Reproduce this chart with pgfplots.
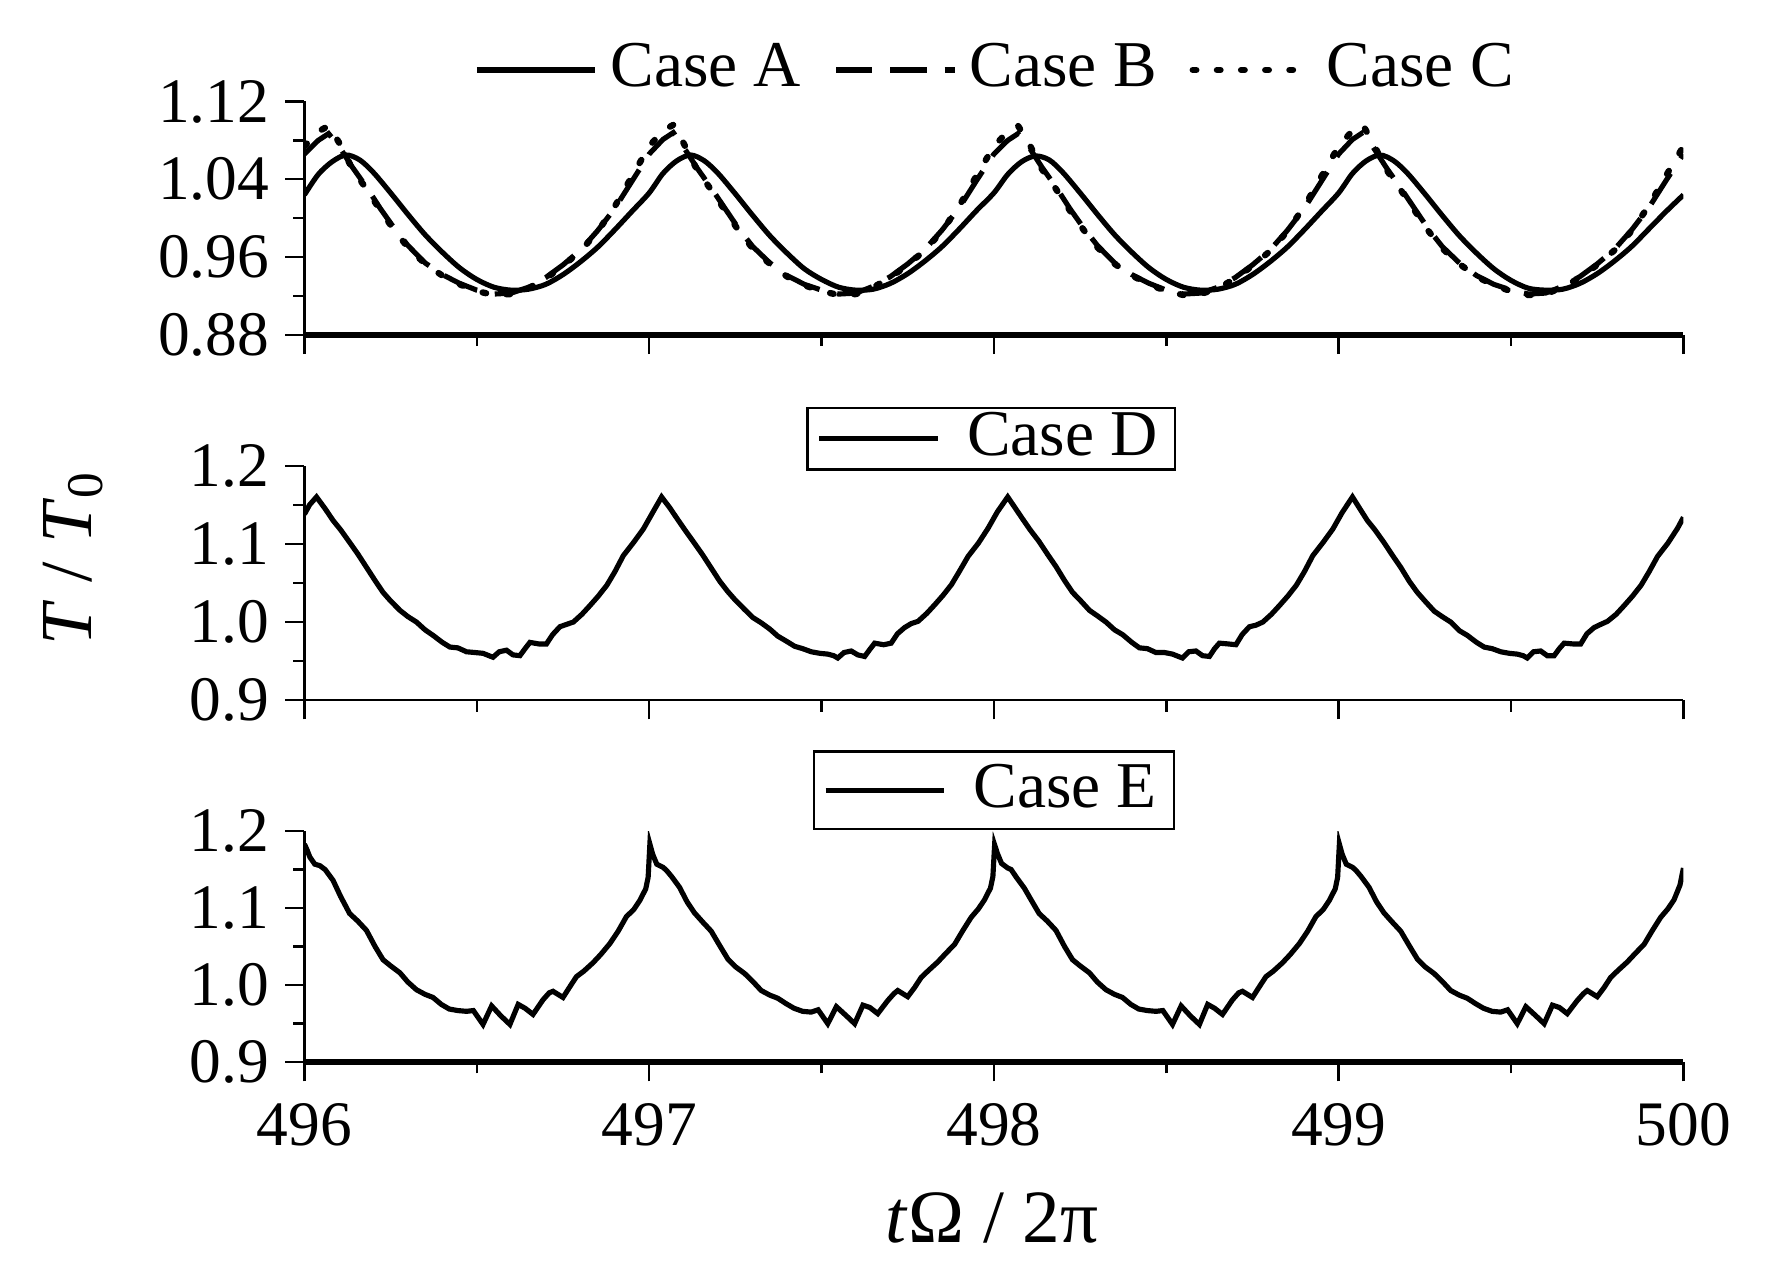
\documentclass[border=0pt]{standalone}
\usepackage{fontspec}
\setmainfont{Liberation Serif}
\usepackage{pgfplots}
\pgfplotsset{compat=1.18}

\pgfplotsset{
  panel/.style={
    scale only axis, width=122.3mm,
    xmin=496, xmax=500,
    axis x line*=bottom, axis y line*=left,
    axis line style={-, line width=0.6pt},
    tick align=outside,
    major tick length=1.7mm, minor tick length=1.0mm,
    xtick={496,497,498,499,500},
    minor xtick={496.5,497.5,498.5,499.5},
    tick style={black, line width=0.6pt},
    minor tick style={black, line width=0.6pt},
    /pgf/number format/assume math mode=true,
    tick label style={font=\fontsize{16}{19}\selectfont},
    yticklabel style={xshift=0.5mm},
    legend image code/.code={\draw[#1] (0mm,0mm) -- (10.5mm,0mm); \path (10.9mm,0mm);},
    legend cell align=left,
    clip=true,
  },
  boxlegend/.style={
    legend image code/.code={\draw[#1] (0mm,0mm) -- (10.5mm,0mm); \path (12.2mm,0mm);},
  },
  curve/.style={black, line width=1.3pt, mark=none},
}

\begin{document}
\fontsize{16}{19}\selectfont
\begin{tikzpicture}
\useasboundingbox (-27mm,0mm) rectangle (129.8mm,-114.2mm);

% ---------- top panel ----------
\begin{axis}[panel, at={(0mm,-29.7mm)}, anchor=south west, height=20.7mm,
  ymin=0.88, ymax=1.12,
  ytick={0.88,0.96,1.04,1.12}, yticklabels={0.88,0.96,1.04,1.12},
  minor ytick={0.92,1.00,1.08},
  xticklabels={},
  x axis line style={line width=1.4pt},
  legend columns=3,
  legend style={draw=none, fill=none, at={(0.503,1.135)}, anchor=center,
    font=\fontsize{16.5}{19}\selectfont,
    /tikz/every even column/.append style={column sep=2.2mm}},
]
\addplot[curve, smooth] coordinates {
(496.00,1.024)(496.04,1.045)(496.08,1.058)(496.12,1.065)(496.16,1.060)(496.20,1.047)(496.25,1.026)(496.30,1.004)(496.35,0.983)(496.40,0.965)(496.45,0.949)(496.50,0.937)(496.55,0.929)(496.60,0.926)(496.65,0.927)(496.70,0.932)(496.75,0.942)(496.80,0.955)(496.85,0.970)(496.90,0.988)(496.95,1.007)
(497.00,1.026)(497.04,1.046)(497.08,1.059)(497.12,1.065)(497.16,1.059)(497.20,1.046)(497.25,1.025)(497.30,1.003)(497.35,0.982)(497.40,0.964)(497.45,0.948)(497.50,0.937)(497.55,0.929)(497.60,0.926)(497.65,0.927)(497.70,0.933)(497.75,0.943)(497.80,0.956)(497.85,0.971)(497.90,0.989)(497.95,1.008)
(498.00,1.026)(498.04,1.045)(498.08,1.058)(498.12,1.064)(498.16,1.060)(498.20,1.047)(498.25,1.026)(498.30,1.004)(498.35,0.983)(498.40,0.965)(498.45,0.949)(498.50,0.937)(498.55,0.929)(498.60,0.926)(498.65,0.927)(498.70,0.932)(498.75,0.942)(498.80,0.955)(498.85,0.970)(498.90,0.988)(498.95,1.007)
(499.00,1.026)(499.04,1.046)(499.08,1.059)(499.12,1.065)(499.16,1.059)(499.20,1.046)(499.25,1.025)(499.30,1.003)(499.35,0.982)(499.40,0.964)(499.45,0.948)(499.50,0.936)(499.55,0.928)(499.60,0.926)(499.65,0.927)(499.70,0.933)(499.75,0.943)(499.80,0.956)(499.85,0.971)(499.90,0.989)(499.95,1.007)(500.00,1.024)
};
\addlegendentry{Case A}
\addplot[curve, dash pattern=on 3.2mm off 1.6mm] coordinates {
(496.00,1.066)(496.04,1.080)(496.07,1.087)(496.10,1.074)(496.14,1.052)(496.18,1.032)(496.22,1.010)(496.26,0.990)(496.30,0.972)(496.35,0.954)(496.40,0.942)(496.45,0.933)(496.50,0.926)(496.55,0.922)(496.60,0.923)(496.65,0.929)(496.70,0.939)(496.75,0.952)(496.80,0.967)(496.85,0.987)(496.90,1.010)(496.95,1.038)
(497.00,1.066)(497.04,1.081)(497.07,1.088)(497.10,1.073)(497.14,1.051)(497.18,1.031)(497.22,1.010)(497.26,0.989)(497.30,0.971)(497.35,0.954)(497.40,0.941)(497.45,0.932)(497.50,0.926)(497.55,0.922)(497.60,0.923)(497.65,0.930)(497.70,0.940)(497.75,0.953)(497.80,0.968)(497.85,0.988)(497.90,1.011)(497.95,1.039)
(498.00,1.066)(498.04,1.080)(498.07,1.087)(498.10,1.074)(498.14,1.052)(498.18,1.032)(498.22,1.010)(498.26,0.990)(498.30,0.972)(498.35,0.954)(498.40,0.942)(498.45,0.933)(498.50,0.926)(498.55,0.922)(498.60,0.923)(498.65,0.929)(498.70,0.939)(498.75,0.952)(498.80,0.967)(498.85,0.987)(498.90,1.010)(498.95,1.038)
(499.00,1.066)(499.04,1.081)(499.07,1.088)(499.10,1.073)(499.14,1.051)(499.18,1.031)(499.22,1.010)(499.26,0.989)(499.30,0.971)(499.35,0.954)(499.40,0.941)(499.45,0.932)(499.50,0.926)(499.55,0.922)(499.60,0.923)(499.65,0.930)(499.70,0.940)(499.75,0.953)(499.80,0.968)(499.85,0.988)(499.90,1.011)(499.95,1.039)(500.00,1.066)
};
\addlegendentry{Case B}
\addplot[curve, dash pattern=on 0.9pt off 5.2pt, line cap=round, line width=1.6pt] coordinates {
(496.00,1.074)(496.04,1.089)(496.07,1.095)(496.10,1.078)(496.14,1.050)(496.18,1.030)(496.22,1.008)(496.26,0.988)(496.30,0.970)(496.35,0.953)(496.40,0.941)(496.45,0.932)(496.50,0.925)(496.55,0.921)(496.60,0.922)(496.65,0.928)(496.70,0.938)(496.75,0.951)(496.80,0.966)(496.85,0.986)(496.90,1.012)(496.95,1.043)
(497.00,1.074)(497.04,1.090)(497.07,1.096)(497.10,1.077)(497.14,1.049)(497.18,1.029)(497.22,1.008)(497.26,0.987)(497.30,0.969)(497.35,0.953)(497.40,0.940)(497.45,0.931)(497.50,0.925)(497.55,0.921)(497.60,0.922)(497.65,0.929)(497.70,0.939)(497.75,0.952)(497.80,0.967)(497.85,0.987)(497.90,1.013)(497.95,1.044)
(498.00,1.074)(498.04,1.089)(498.07,1.095)(498.10,1.078)(498.14,1.050)(498.18,1.030)(498.22,1.008)(498.26,0.988)(498.30,0.970)(498.35,0.953)(498.40,0.941)(498.45,0.932)(498.50,0.925)(498.55,0.921)(498.60,0.922)(498.65,0.928)(498.70,0.938)(498.75,0.951)(498.80,0.966)(498.85,0.986)(498.90,1.012)(498.95,1.043)
(499.00,1.074)(499.04,1.090)(499.07,1.096)(499.10,1.077)(499.14,1.049)(499.18,1.029)(499.22,1.008)(499.26,0.987)(499.30,0.969)(499.35,0.953)(499.40,0.940)(499.45,0.931)(499.50,0.925)(499.55,0.921)(499.60,0.922)(499.65,0.929)(499.70,0.939)(499.75,0.952)(499.80,0.967)(499.85,0.987)(499.90,1.013)(499.95,1.044)(500.00,1.074)
};
\addlegendentry{Case C}
\end{axis}

% ---------- middle panel ----------
\begin{axis}[panel, boxlegend, at={(0mm,-62.1mm)}, anchor=south west, height=20.8mm,
  ymin=0.9, ymax=1.2,
  ytick={0.9,1.0,1.1,1.2}, yticklabels={0.9,1.0,1.1,1.2},
  minor ytick={0.95,1.05,1.15},
  xticklabels={},
  legend style={draw=black, line width=0.6pt, fill=white, at={(0.498,1.115)}, anchor=center,
    font=\fontsize{16.5}{19}\selectfont, inner xsep=0.8mm, inner ysep=0mm,
    nodes={inner ysep=0.4mm},
    /tikz/every even column/.append style={column sep=2.5mm}},
]
\addplot[curve] coordinates {
(496.000,1.138)(496.015,1.150)(496.035,1.160)(496.060,1.145)(496.083,1.130)(496.105,1.118)(496.131,1.102)(496.155,1.087)(496.180,1.070)(496.205,1.053)(496.228,1.038)(496.250,1.027)(496.277,1.015)(496.300,1.007)(496.325,1.000)(496.350,0.990)(496.373,0.983)(496.400,0.974)(496.422,0.968)(496.445,0.967)(496.470,0.962)(496.495,0.961)(496.518,0.960)(496.535,0.957)(496.547,0.955)(496.565,0.962)(496.586,0.964)(496.605,0.958)(496.625,0.957)(496.640,0.966)(496.654,0.974)(496.680,0.972)(496.702,0.972)(496.720,0.984)(496.741,0.994)(496.760,0.997)(496.780,1.000)(496.805,1.010)(496.828,1.021)(496.852,1.033)(496.877,1.047)(496.900,1.064)(496.925,1.085)(496.955,1.102)(496.983,1.119)
(497.010,1.140)(497.036,1.160)(497.060,1.146)(497.083,1.131)(497.105,1.117)(497.131,1.101)(497.155,1.086)(497.180,1.069)(497.205,1.052)(497.228,1.039)(497.250,1.028)(497.277,1.016)(497.300,1.006)(497.325,0.999)(497.350,0.991)(497.373,0.982)(497.400,0.975)(497.422,0.969)(497.445,0.966)(497.470,0.962)(497.495,0.960)(497.518,0.959)(497.535,0.957)(497.547,0.954)(497.565,0.961)(497.586,0.963)(497.605,0.958)(497.625,0.956)(497.640,0.965)(497.654,0.973)(497.680,0.971)(497.702,0.973)(497.720,0.985)(497.741,0.993)(497.760,0.998)(497.780,1.001)(497.805,1.011)(497.828,1.022)(497.852,1.034)(497.877,1.048)(497.900,1.065)(497.925,1.084)(497.955,1.101)(497.983,1.120)
(498.010,1.141)(498.040,1.160)(498.060,1.147)(498.083,1.132)(498.105,1.118)(498.131,1.103)(498.155,1.087)(498.180,1.071)(498.205,1.053)(498.228,1.038)(498.250,1.028)(498.277,1.015)(498.300,1.008)(498.325,1.000)(498.350,0.990)(498.373,0.984)(498.400,0.974)(498.422,0.967)(498.445,0.966)(498.470,0.961)(498.495,0.961)(498.518,0.959)(498.535,0.956)(498.547,0.954)(498.565,0.962)(498.586,0.963)(498.605,0.957)(498.625,0.956)(498.640,0.966)(498.654,0.973)(498.680,0.972)(498.702,0.971)(498.720,0.984)(498.741,0.994)(498.760,0.996)(498.780,1.000)(498.805,1.010)(498.828,1.021)(498.852,1.033)(498.877,1.047)(498.900,1.064)(498.925,1.085)(498.955,1.102)(498.983,1.119)
(499.010,1.140)(499.040,1.160)(499.060,1.146)(499.083,1.130)(499.105,1.118)(499.131,1.102)(499.155,1.086)(499.180,1.070)(499.205,1.052)(499.228,1.038)(499.250,1.027)(499.277,1.014)(499.300,1.007)(499.325,1.000)(499.350,0.989)(499.373,0.983)(499.400,0.974)(499.422,0.968)(499.445,0.966)(499.470,0.962)(499.495,0.960)(499.518,0.959)(499.535,0.957)(499.547,0.954)(499.565,0.962)(499.586,0.963)(499.605,0.957)(499.625,0.957)(499.640,0.966)(499.654,0.973)(499.680,0.972)(499.702,0.972)(499.720,0.985)(499.741,0.993)(499.760,0.997)(499.780,1.001)(499.805,1.010)(499.828,1.021)(499.852,1.033)(499.877,1.047)(499.900,1.064)(499.925,1.084)(499.955,1.101)(499.983,1.120)(500.000,1.134)
};
\addlegendentry{Case D}
\end{axis}

% ---------- bottom panel ----------
\begin{axis}[panel, boxlegend, at={(0mm,-94.2mm)}, anchor=south west, height=20.5mm,
  ymin=0.9, ymax=1.2,
  ytick={0.9,1.0,1.1,1.2}, yticklabels={0.9,1.0,1.1,1.2},
  minor ytick={0.95,1.05,1.15},
  xticklabels={496,497,498,499,500},
  x axis line style={line width=1.4pt},
  legend style={draw=black, line width=0.6pt, fill=white, at={(0.5,1.176)}, anchor=center,
    font=\fontsize{16.5}{19}\selectfont, inner xsep=0.8mm, inner ysep=0.7mm,
    nodes={inner ysep=0.4mm},
    /tikz/every even column/.append style={column sep=2.5mm}},
]
\addplot[curve] coordinates {
(496.000,1.183)(496.008,1.175)(496.016,1.166)(496.030,1.157)(496.045,1.155)(496.060,1.150)(496.083,1.136)(496.105,1.115)(496.131,1.093)(496.155,1.083)(496.180,1.071)(496.205,1.050)(496.228,1.033)(496.250,1.025)(496.277,1.016)(496.300,1.004)(496.325,0.994)(496.350,0.988)(496.373,0.984)(496.397,0.975)(496.420,0.969)(496.445,0.967)(496.470,0.966)(496.490,0.967)(496.518,0.949)(496.543,0.973)(496.570,0.960)(496.596,0.949)(496.620,0.975)(496.640,0.970)(496.663,0.962)(496.692,0.981)(496.710,0.990)(496.721,0.992)(496.750,0.984)(496.770,0.998)(496.789,1.011)(496.810,1.018)(496.837,1.029)(496.860,1.040)(496.886,1.054)(496.910,1.070)(496.934,1.089)(496.955,1.098)(496.973,1.110)(496.990,1.125)(496.997,1.140)
(497.002,1.183)(497.010,1.170)(497.022,1.157)(497.040,1.153)(497.050,1.149)(497.065,1.141)(497.088,1.127)(497.110,1.108)(497.131,1.094)(497.155,1.082)(497.180,1.070)(497.205,1.051)(497.228,1.034)(497.250,1.024)(497.277,1.015)(497.300,1.005)(497.325,0.993)(497.350,0.987)(497.373,0.983)(497.397,0.976)(497.420,0.970)(497.445,0.966)(497.470,0.965)(497.490,0.968)(497.518,0.950)(497.543,0.972)(497.570,0.961)(497.596,0.950)(497.620,0.974)(497.640,0.971)(497.663,0.963)(497.692,0.980)(497.710,0.989)(497.721,0.993)(497.750,0.985)(497.770,0.997)(497.789,1.010)(497.810,1.019)(497.837,1.030)(497.860,1.041)(497.886,1.053)(497.910,1.071)(497.934,1.088)(497.955,1.099)(497.973,1.111)(497.990,1.126)(497.997,1.141)
(498.002,1.182)(498.010,1.171)(498.022,1.158)(498.040,1.152)(498.050,1.150)(498.065,1.140)(498.088,1.126)(498.110,1.109)(498.131,1.093)(498.155,1.083)(498.180,1.071)(498.205,1.050)(498.228,1.033)(498.250,1.025)(498.277,1.016)(498.300,1.004)(498.325,0.994)(498.350,0.988)(498.373,0.984)(498.397,0.975)(498.420,0.969)(498.445,0.967)(498.470,0.966)(498.490,0.967)(498.518,0.949)(498.543,0.973)(498.570,0.960)(498.596,0.949)(498.620,0.975)(498.640,0.970)(498.663,0.962)(498.692,0.981)(498.710,0.990)(498.721,0.992)(498.750,0.984)(498.770,0.998)(498.789,1.011)(498.810,1.018)(498.837,1.029)(498.860,1.040)(498.886,1.054)(498.910,1.070)(498.934,1.089)(498.955,1.098)(498.973,1.110)(498.990,1.125)(498.997,1.140)
(499.002,1.183)(499.010,1.170)(499.022,1.157)(499.040,1.153)(499.050,1.149)(499.065,1.141)(499.088,1.127)(499.110,1.108)(499.131,1.094)(499.155,1.082)(499.180,1.070)(499.205,1.051)(499.228,1.034)(499.250,1.024)(499.277,1.015)(499.300,1.005)(499.325,0.993)(499.350,0.987)(499.373,0.983)(499.397,0.976)(499.420,0.970)(499.445,0.966)(499.470,0.965)(499.490,0.968)(499.518,0.950)(499.543,0.972)(499.570,0.961)(499.596,0.950)(499.620,0.974)(499.640,0.971)(499.663,0.963)(499.692,0.980)(499.710,0.989)(499.721,0.993)(499.750,0.985)(499.770,0.997)(499.789,1.010)(499.810,1.019)(499.837,1.030)(499.860,1.041)(499.886,1.053)(499.910,1.071)(499.934,1.088)(499.955,1.099)(499.973,1.111)(499.990,1.130)(500.000,1.152)
};
\addlegendentry{Case E}
\end{axis}

% axis titles
\node[rotate=90, font=\fontsize{18.5}{22}\selectfont] at (-20.5mm,-49.5mm) {\textit{T} / \textit{T}\textsubscript{0}};
\node[font=\fontsize{19}{22}\selectfont] at (61mm,-108mm) {\textit{t}Ω / 2π};
\end{tikzpicture}
\end{document}
